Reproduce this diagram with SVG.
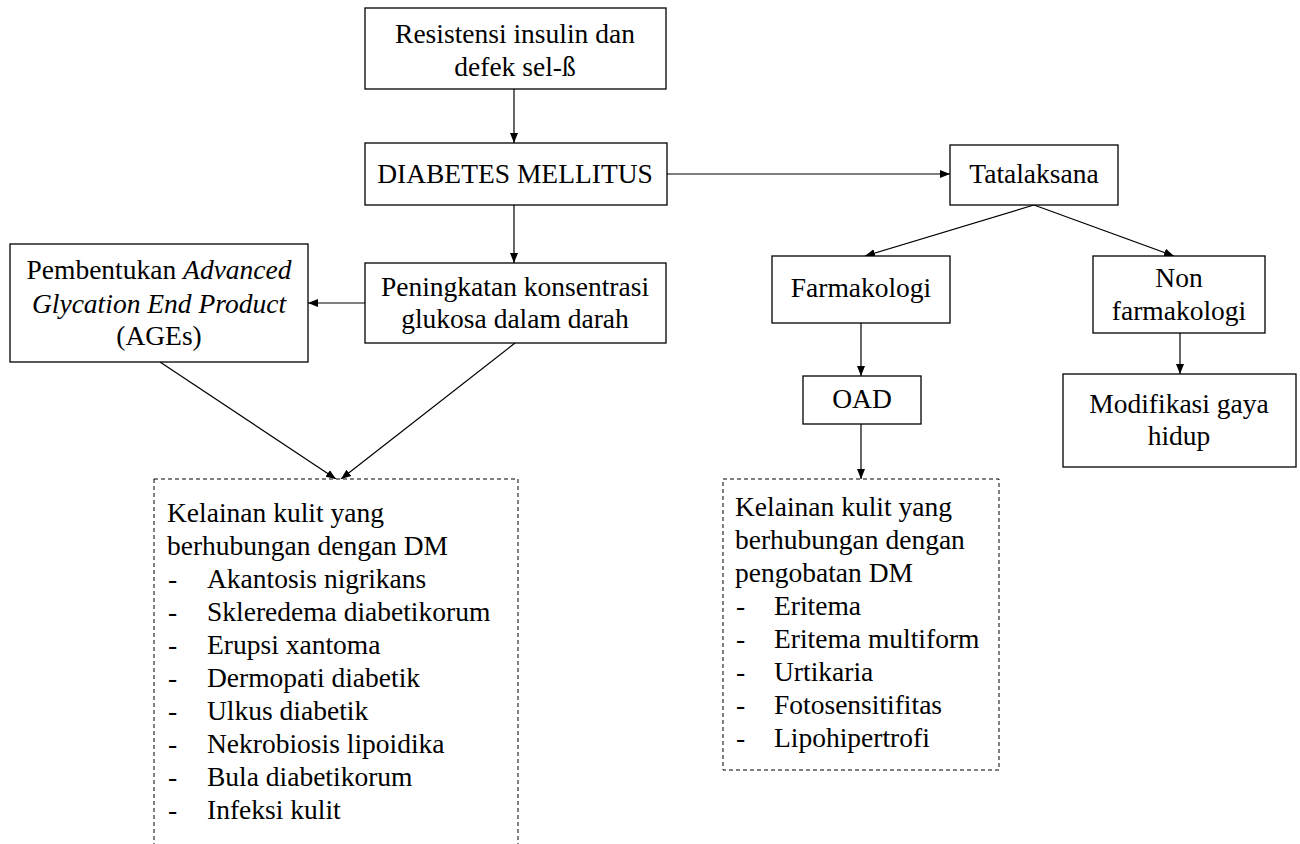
<svg xmlns="http://www.w3.org/2000/svg" width="1300" height="844" viewBox="0 0 1300 844">
<style>
.box{fill:#fff;stroke:#000;stroke-width:1.3}
.dash{fill:#fff;stroke:#000;stroke-width:1;stroke-dasharray:4 3}
.t{font-size:27.5px;fill:#000}
.c{text-anchor:middle}
.ln{stroke:#000;stroke-width:1.2;fill:none;marker-end:url(#ah)}
</style>
<defs>
<marker id="ah" viewBox="0 0 10 10" refX="10" refY="5" markerWidth="10" markerHeight="10" markerUnits="userSpaceOnUse" orient="auto">
<path d="M0,1 L10,5 L0,9 z" fill="#000"/>
</marker>
</defs>
<rect width="1300" height="844" fill="#fff"/>
<g id="connectors">
<line class="ln" x1="514" y1="89" x2="514" y2="143"/>
<line class="ln" x1="514" y1="205" x2="514" y2="263"/>
<line class="ln" x1="365" y1="303" x2="308" y2="303"/>
<line class="ln" x1="160" y1="362" x2="336" y2="479"/>
<line class="ln" x1="515" y1="343" x2="341" y2="479"/>
<line class="ln" x1="667" y1="174" x2="950" y2="174"/>
<line class="ln" x1="1034" y1="205" x2="865" y2="256"/>
<line class="ln" x1="1034" y1="205" x2="1174" y2="256"/>
<line class="ln" x1="861" y1="323" x2="861" y2="376"/>
<line class="ln" x1="861" y1="424" x2="861" y2="479"/>
<line class="ln" x1="1180" y1="333" x2="1180" y2="374"/>
</g>
<g font-family="'Liberation Serif', Tinos, 'Times New Roman', 'DejaVu Serif', serif">
<g id="resistensi">
<rect class="box" x="365" y="8" width="301" height="81"/>
<text class="t c" x="515" y="43">Resistensi insulin dan</text>
<text class="t c" x="515" y="76">defek sel-ß</text>
</g>
<g id="dm">
<rect class="box" x="365" y="143" width="302" height="62"/>
<text class="t c" x="515" y="183">DIABETES MELLITUS</text>
</g>
<g id="peningkatan">
<rect class="box" x="365" y="263" width="301" height="80"/>
<text class="t c" x="515" y="296">Peningkatan konsentrasi</text>
<text class="t c" x="515" y="328">glukosa dalam darah</text>
</g>
<g id="ages">
<rect class="box" x="10" y="244" width="298" height="118"/>
<text class="t c" x="159" y="279">Pembentukan <tspan font-style="italic">Advanced</tspan></text>
<text class="t c" x="159" y="313" font-style="italic">Glycation End Product</text>
<text class="t c" x="159" y="345">(AGEs)</text>
</g>
<g id="kelainan-dm">
<rect class="dash" x="154" y="479" width="364" height="366"/>
<text class="t" x="167" y="522">Kelainan kulit yang</text>
<text class="t" x="167" y="555">berhubungan dengan DM</text>
<text class="t" x="168" y="588">-</text><text class="t" x="207" y="588">Akantosis nigrikans</text>
<text class="t" x="168" y="621">-</text><text class="t" x="207" y="621">Skleredema diabetikorum</text>
<text class="t" x="168" y="654">-</text><text class="t" x="207" y="654">Erupsi xantoma</text>
<text class="t" x="168" y="687">-</text><text class="t" x="207" y="687">Dermopati diabetik</text>
<text class="t" x="168" y="720">-</text><text class="t" x="207" y="720">Ulkus diabetik</text>
<text class="t" x="168" y="753">-</text><text class="t" x="207" y="753">Nekrobiosis lipoidika</text>
<text class="t" x="168" y="786">-</text><text class="t" x="207" y="786">Bula diabetikorum</text>
<text class="t" x="168" y="819">-</text><text class="t" x="207" y="819">Infeksi kulit</text>
</g>
<g id="tatalaksana">
<rect class="box" x="950" y="145" width="168" height="60"/>
<text class="t c" x="1034" y="183">Tatalaksana</text>
</g>
<g id="farmakologi">
<rect class="box" x="772" y="256" width="178" height="67"/>
<text class="t c" x="861" y="297">Farmakologi</text>
</g>
<g id="nonfarmakologi">
<rect class="box" x="1093" y="256" width="172" height="77"/>
<text class="t c" x="1179" y="287">Non</text>
<text class="t c" x="1179" y="320">farmakologi</text>
</g>
<g id="oad">
<rect class="box" x="803" y="376" width="118" height="48"/>
<text class="t c" x="862" y="408">OAD</text>
</g>
<g id="modifikasi">
<rect class="box" x="1063" y="374" width="233" height="93"/>
<text class="t c" x="1179" y="413">Modifikasi gaya</text>
<text class="t c" x="1179" y="445">hidup</text>
</g>
<g id="kelainan-pengobatan">
<rect class="dash" x="723" y="479" width="276" height="291"/>
<text class="t" x="735" y="516">Kelainan kulit yang</text>
<text class="t" x="735" y="549">berhubungan dengan</text>
<text class="t" x="735" y="582">pengobatan DM</text>
<text class="t" x="736" y="615">-</text><text class="t" x="774" y="615">Eritema</text>
<text class="t" x="736" y="648">-</text><text class="t" x="774" y="648">Eritema multiform</text>
<text class="t" x="736" y="681">-</text><text class="t" x="774" y="681">Urtikaria</text>
<text class="t" x="736" y="714">-</text><text class="t" x="774" y="714">Fotosensitifitas</text>
<text class="t" x="736" y="747">-</text><text class="t" x="774" y="747">Lipohipertrofi</text>
</g>
</g>
</svg>
